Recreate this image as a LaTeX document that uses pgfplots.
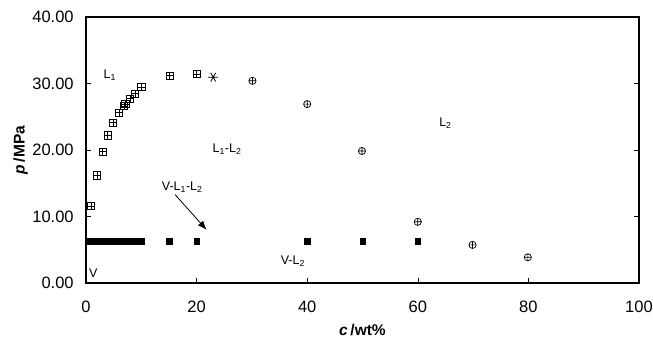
\documentclass[border=0pt]{standalone}
\usepackage{pgfplots}
\pgfplotsset{compat=1.18}
\usetikzlibrary{plotmarks,arrows.meta}
\usepackage{fontspec}
\setmainfont{Liberation Sans}
\pgfdeclareplotmark{boxplus}{%
  \pgfpathrectangle{\pgfpoint{-\pgfplotmarksize}{-\pgfplotmarksize}}{\pgfpoint{2\pgfplotmarksize}{2\pgfplotmarksize}}%
  \pgfpathmoveto{\pgfpoint{-\pgfplotmarksize}{0pt}}\pgfpathlineto{\pgfpoint{\pgfplotmarksize}{0pt}}%
  \pgfpathmoveto{\pgfpoint{0pt}{-\pgfplotmarksize}}\pgfpathlineto{\pgfpoint{0pt}{\pgfplotmarksize}}%
  \pgfusepathqstroke}
\begin{document}
\fontsize{12.5}{15}\selectfont
\begin{tikzpicture}
\path[use as bounding box] (-86pt,-60pt) rectangle (567pt,283pt);
\begin{axis}[
  at={(0pt,0pt)}, anchor=south west,
  scale only axis, width=553pt, height=266pt,
  xmin=0, xmax=100, ymin=0, ymax=40,
  xtick={0,20,40,60,80,100}, ytick={0,10,20,30,40},
  xtick pos=bottom, ytick pos=both,
  tick align=inside, major tick length=5pt,
  axis line style={line width=1.4pt},
  every tick/.style={black, line width=0.6pt},
  yticklabel style={/pgf/number format/fixed, /pgf/number format/fixed zerofill, /pgf/number format/precision=2},
  /pgf/number format/assume math mode=true,
  ticklabel style={font=\fontsize{16.5}{18}\selectfont},
  xticklabel style={yshift=-14pt},
  yticklabel style={xshift=-8pt},
  xlabel={\textbf{\textit{c}\,/wt\%}},
  ylabel={\textbf{\textit{p}\,/MPa}},
  label style={font=\fontsize{15.5}{18}\selectfont},
  xlabel style={yshift=-3pt},
  ylabel style={yshift=-4pt},
  clip=false,
]
% L1 branch (boxed plus)
\addplot[only marks, mark=boxplus, mark size=3.6pt, line width=0.7pt] coordinates {
 (0.9,11.6) (2.0,16.2) (3.0,19.75) (3.9,22.2) (4.9,24.1) (6.0,25.6) (6.9,26.6) (7.1,26.9)
 (8.0,27.7) (8.9,28.5) (10.0,29.45) (15.1,31.2) (20.0,31.45)};
% critical point
\addplot[only marks, mark=asterisk, mark size=5pt, line width=0.8pt, mark options={rotate=90}] coordinates {(23.0,30.95)};
% L2 branch (circle plus)
\addplot[only marks, mark=oplus, mark size=3.6pt, line width=0.7pt] coordinates {
 (30.1,30.4) (40,26.9) (49.9,19.85) (60,9.2) (69.9,5.73) (79.9,3.87)};
% V-L1-L2 three-phase line
\addplot[only marks, mark=square*, mark size=2.8pt] coordinates {
 (0.5,6.28) (1,6.28) (2,6.28) (3,6.28) (4,6.28) (5,6.28) (6,6.28) (6.5,6.28) (7,6.28) (8,6.28) (9,6.28) (10,6.28)
 (15,6.28) (20,6.28) (40,6.28) (50,6.28) (60,6.28)};
\node at (axis cs:4.3,31.2) {L\textsubscript{1}};
\node at (axis cs:25.5,20.1) {L\textsubscript{1}-L\textsubscript{2}};
\node at (axis cs:65,24.0) {L\textsubscript{2}};
\node at (axis cs:17.4,14.4) {V-L\textsubscript{1}-L\textsubscript{2}};
\node at (axis cs:37.4,3.3) {V-L\textsubscript{2}};
\node at (axis cs:1.3,1.4) {V};
\draw[-{Latex[length=9pt,width=7pt]}, line width=0.8pt] (axis cs:16.1,13.3) -- (axis cs:21.8,8.0);
\end{axis}
\end{tikzpicture}
\end{document}
